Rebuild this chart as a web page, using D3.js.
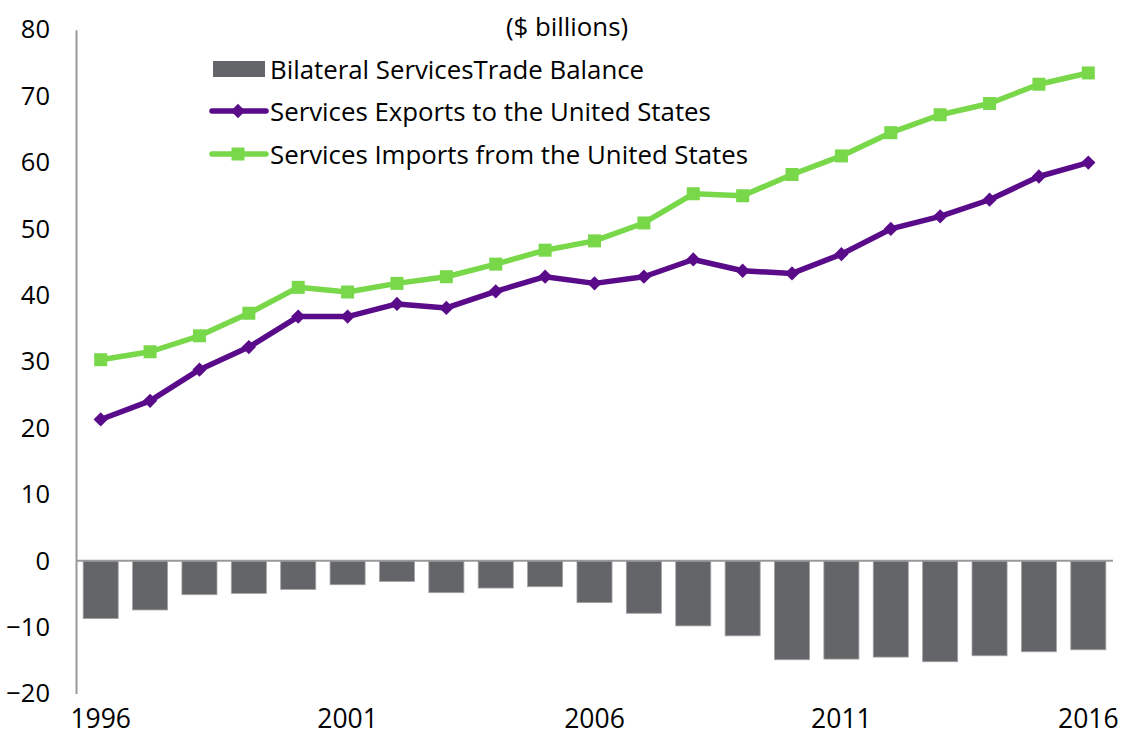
<!DOCTYPE html>
<html>
<head>
<meta charset="utf-8">
<script src="https://cdn.jsdelivr.net/npm/d3@7"></script>
<style>
  html, body { margin: 0; padding: 0; background: #fff; }
  svg { display: block; font-family: "Open Sans", "Noto Sans", sans-serif; }
</style>
</head>
<body>
<svg id="chart" width="1125" height="745"></svg>
<script>
// Annual services trade with the United States, $ billions
const years = d3.range(1996, 2017);
const exportsToUS = [21.3, 24.1, 28.8, 32.2, 36.8, 36.8, 38.7, 38.1, 40.6, 42.8, 41.8,
                     42.8, 45.4, 43.7, 43.3, 46.2, 50.0, 51.9, 54.4, 57.9, 60.0];
const importsFromUS = [30.3, 31.5, 33.9, 37.3, 41.2, 40.5, 41.8, 42.8, 44.7, 46.8, 48.2,
                       50.9, 55.3, 55.0, 58.2, 61.0, 64.5, 67.2, 68.9, 71.8, 73.5];
const tradeBalance = [-8.7, -7.4, -5.1, -4.9, -4.3, -3.6, -3.1, -4.8, -4.1, -3.9, -6.3,
                      -7.9, -9.8, -11.3, -14.9, -14.8, -14.5, -15.2, -14.3, -13.7, -13.4];
const yTicks = [-20, -10, 0, 10, 20, 30, 40, 50, 60, 70, 80];
const xTickYears = [1996, 2001, 2006, 2011, 2016];
const seriesNames = ["Bilateral ServicesTrade Balance",
                     "Services Exports to the United States",
                     "Services Imports from the United States"];
const unitLabel = "($ billions)";

const colors = { bar: "#636569", barEdge: "#a3a3a3", exports: "#5a0b8a", imports: "#78d84a", axis: "#999" };

const svg = d3.select("#chart");
const plotLeft = 76, plotRight = 1113, plotTop = 29.8, plotBottom = 693.6;

const x = d3.scaleBand().domain(years).range([plotLeft, plotRight]).paddingInner(0.29).paddingOuter(0.145);
const y = d3.scaleLinear().domain([-20, 80]).range([plotBottom, plotTop]);
const cx = d => x(d) + x.bandwidth() / 2;

// Balance bars hang down from zero
svg.append("g").selectAll("rect")
  .data(years.map((yr, i) => ({ yr, v: tradeBalance[i] })))
  .join("rect")
  .attr("x", d => x(d.yr))
  .attr("width", x.bandwidth())
  .attr("y", d => y(Math.max(0, d.v)))
  .attr("height", d => Math.abs(y(d.v) - y(0)))
  .attr("fill", colors.bar)
  .attr("stroke", colors.barEdge)
  .attr("stroke-width", 0.8);

// Axes: vertical line on the left, zero line across
const yAxis = d3.axisLeft(y).tickValues(yTicks).tickSize(0).tickPadding(26).tickFormat(d3.format("d"));
const gy = svg.append("g").attr("transform", `translate(${plotLeft},0)`).call(yAxis);
gy.select(".domain").attr("stroke", colors.axis).attr("stroke-width", 2);
gy.selectAll("text").attr("font-size", 25.5).attr("fill", "#000")
  .attr("font-family", "'Open Sans', sans-serif");

svg.append("line")
  .attr("x1", plotLeft).attr("x2", plotRight)
  .attr("y1", y(0)).attr("y2", y(0))
  .attr("stroke", colors.axis).attr("stroke-width", 2);

const xAxis = d3.axisBottom(x).tickValues(xTickYears).tickSize(0).tickPadding(16);
const gx = svg.append("g").attr("transform", `translate(0,${plotBottom})`).call(xAxis);
gx.select(".domain").remove();
gx.selectAll("text").attr("font-size", 26.5).attr("fill", "#000")
  .attr("font-family", "'Open Sans', sans-serif");

// Lines with markers
const line = d3.line().x(d => cx(d.yr)).y(d => y(d.v));
const expData = years.map((yr, i) => ({ yr, v: exportsToUS[i] }));
const impData = years.map((yr, i) => ({ yr, v: importsFromUS[i] }));

svg.append("path").datum(impData).attr("d", line)
  .attr("fill", "none").attr("stroke", colors.imports).attr("stroke-width", 5.5)
  .attr("stroke-linejoin", "round");
svg.append("g").selectAll("rect").data(impData).join("rect")
  .attr("x", d => cx(d.yr) - 6.5).attr("y", d => y(d.v) - 6.5)
  .attr("width", 13).attr("height", 13).attr("fill", colors.imports);

svg.append("path").datum(expData).attr("d", line)
  .attr("fill", "none").attr("stroke", colors.exports).attr("stroke-width", 5.5)
  .attr("stroke-linejoin", "round");
const diamond = d3.symbol().type(d3.symbolDiamond2).size(130);
svg.append("g").selectAll("path").data(expData).join("path")
  .attr("transform", d => `translate(${cx(d.yr)},${y(d.v)})`)
  .attr("d", diamond).attr("fill", colors.exports);

// Legend
const lg = svg.append("g").attr("font-size", 25.8).attr("fill", "#000");
lg.append("text").attr("x", 567).attr("y", 26).attr("text-anchor", "middle")
  .attr("dominant-baseline", "central").text(unitLabel);

const legendRows = [69, 111, 154];
const keyX0 = 212, keyX1 = 266, textX = 270;
lg.append("rect").attr("x", 213).attr("y", legendRows[0] - 8).attr("width", 52).attr("height", 16)
  .attr("fill", colors.bar);
lg.append("line").attr("x1", keyX0).attr("x2", keyX1).attr("y1", legendRows[1]).attr("y2", legendRows[1])
  .attr("stroke", colors.exports).attr("stroke-width", 5.5).attr("stroke-linecap", "round");
lg.append("path").attr("transform", `translate(238,${legendRows[1]})`).attr("d", diamond).attr("fill", colors.exports);
lg.append("line").attr("x1", keyX0).attr("x2", keyX1).attr("y1", legendRows[2]).attr("y2", legendRows[2])
  .attr("stroke", colors.imports).attr("stroke-width", 5.5).attr("stroke-linecap", "round");
lg.append("rect").attr("x", 231.5).attr("y", legendRows[2] - 6.5).attr("width", 13).attr("height", 13)
  .attr("fill", colors.imports);

seriesNames.forEach((name, i) => {
  lg.append("text").attr("x", textX).attr("y", legendRows[i])
    .attr("dominant-baseline", "central").text(name);
});
</script>
</body>
</html>
